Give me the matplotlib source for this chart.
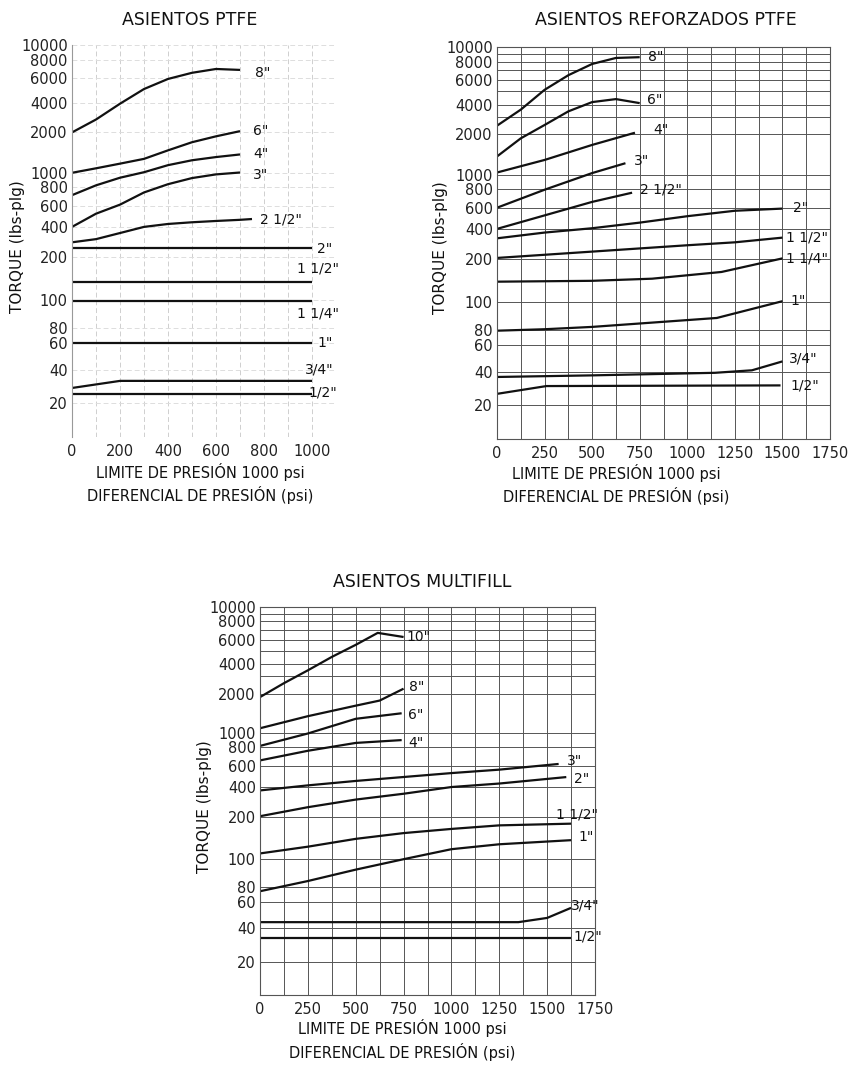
import numpy as np
import matplotlib.pyplot as plt

plt.rcParams['font.family'] = 'DejaVu Sans'

# tick labels of the torque axis
y_ticks = [10000, 8000, 6000, 4000, 2000, 1000, 800, 600, 400, 200, 100, 80, 60, 40, 20]
x_ticks_ptfe = [0, 200, 400, 600, 800, 1000]
x_ticks_wide = [0, 250, 500, 750, 1000, 1250, 1500, 1750]

# the printed torque axis is not a true log axis: height of each value on the paper (0 bottom, 1 top)
axis_vals = [10, 20, 40, 60, 80, 100, 200, 400, 600, 800, 1000, 2000, 4000, 6000, 8000, 10000]
axis_h = [0, .086, .172, .239, .278, .350, .458, .536, .590, .638, .674, .777, .853, .916, .963, 1.0]
log_vals = np.log10(axis_vals)


def fwd(v):
    v = np.clip(np.asarray(v, dtype=float), 1e-6, None)
    return np.interp(np.log10(v), log_vals, axis_h)


def inv(h):
    return 10 ** np.interp(np.asarray(h, dtype=float), axis_h, log_vals)


# ---- ASIENTOS PTFE ----
ptfe_sizes = ['8"', '6"', '4"', '3"', '2 1/2"', '2"', '1 1/2"', '1 1/4"', '1"', '3/4"', '1/2"']
ptfe_x = [
    [0, 100, 200, 300, 400, 500, 600, 700],
    [0, 100, 200, 300, 400, 500, 600, 700],
    [0, 100, 200, 300, 400, 500, 600, 700],
    [0, 100, 200, 300, 400, 500, 600, 700],
    [0, 100, 200, 300, 400, 500, 600, 700, 750],
    [0, 1000],
    [0, 1000],
    [0, 1000],
    [0, 1000],
    [0, 200, 1000],
    [0, 1000],
]
ptfe_y = [
    [2000, 2700, 3900, 5000, 5900, 6500, 6900, 6800],
    [1000, 1080, 1170, 1270, 1470, 1690, 1870, 2060],
    [705, 820, 925, 1010, 1140, 1240, 1310, 1370],
    [400, 515, 610, 735, 835, 920, 975, 1005],
    [282, 303, 348, 400, 423, 437, 448, 458, 465],
    [247, 247],
    [134, 134],
    [99, 99],
    [60, 60],
    [27.4, 31.7, 31.7],
    [24, 24],
]
ptfe_lbl_off = [(15, -3), (13, 0), (13, 0), (13, -2), (8, 0), (5, -1),
                (-15, 13), (-15, -12), (5, 0), (-7, 11), (-4, 2)]

# ---- ASIENTOS REFORZADOS PTFE ----
ref_sizes = ['8"', '6"', '4"', '3"', '2 1/2"', '2"', '1 1/2"', '1 1/4"', '1"', '3/4"', '1/2"']
ref_x = [
    [0, 125, 250, 375, 500, 625, 750],
    [0, 125, 250, 375, 500, 625, 750],
    [0, 250, 500, 725],
    [0, 250, 500, 675],
    [0, 250, 500, 710],
    [0, 250, 500, 750, 1000, 1250, 1500],
    [0, 500, 1000, 1250, 1500],
    [0, 500, 815, 1180, 1500],
    [0, 250, 500, 1155, 1500],
    [0, 500, 1145, 1340, 1500],
    [0, 260, 1490],
]
ref_y = [
    [2450, 3560, 5100, 6460, 7700, 8450, 8550],
    [1370, 1870, 2490, 3420, 4170, 4380, 4100],
    [1040, 1290, 1670, 2080],
    [600, 790, 1030, 1220],
    [400, 518, 656, 755],
    [323, 368, 405, 451, 510, 566, 590],
    [207, 239, 276, 295, 328],
    [139, 141, 146, 163, 205],
    [79, 80.5, 82, 88, 101],
    [35.8, 37, 39, 40.8, 46.8],
    [25.3, 29.7, 30.1],
]
ref_lbl_off = [(8, 0), (7, 3), (18, 3), (8, 2), (8, 3), (11, 1),
               (4, 0), (4, 0), (8, 0), (7, 3), (10, 0)]

# ---- ASIENTOS MULTIFILL ----
mf_sizes = ['10"', '8"', '6"', '4"', '3"', '2"', '1 1/2"', '1"', '3/4"', '1/2"']
mf_x = [
    [0, 125, 250, 375, 500, 615, 750],
    [0, 250, 500, 625, 750],
    [0, 250, 500, 740],
    [0, 250, 500, 740],
    [0, 250, 500, 1000, 1250, 1560],
    [0, 250, 500, 750, 1000, 1250, 1600],
    [0, 250, 500, 750, 1000, 1250, 1625],
    [0, 250, 500, 750, 1000, 1250, 1625],
    [0, 1350, 1500, 1625],
    [0, 1625],
]
mf_y = [
    [1880, 2550, 3450, 4500, 5500, 6670, 6250],
    [1095, 1350, 1620, 1770, 2240],
    [820, 1000, 1290, 1420],
    [655, 760, 860, 900],
    [370, 413, 450, 524, 560, 620],
    [205, 252, 300, 343, 400, 428, 485],
    [110, 123, 140, 154, 165, 175, 180],
    [74, 84, 92, 100, 118, 128, 137],
    [44, 44, 47, 55],
    [33, 33],
]
mf_lbl_off = [(3, 0), (5, 2), (6, -2), (7, -3), (8, 3), (8, -2),
              (-15, 9), (7, 3), (0, 2), (2, 1)]

W, H = 849, 1068
fig = plt.figure(figsize=(W / 100, H / 100), dpi=100)


def make_ax(left, top, right, bottom):
    return fig.add_axes([left / W, 1 - bottom / H, (right - left) / W, (bottom - top) / H])


def draw(ax, sizes, xs, ys, offs, xlim, xticks, minor_step, light):
    ax.set_yscale('function', functions=(fwd, inv))
    ax.set_ylim(10, 10000)
    ax.set_xlim(*xlim)
    ax.set_yticks(y_ticks)
    ax.set_yticklabels([str(v) for v in y_ticks])
    ax.set_xticks(xticks)
    ax.set_xticklabels([str(v) for v in xticks])
    ax.set_xticks(np.arange(0, xlim[1] + 1, minor_step), minor=True)
    ax.tick_params(axis='both', which='both', length=0, labelsize=10.5, colors='#222222')
    ax.tick_params(axis='y', pad=3)
    ax.tick_params(axis='x', pad=5)
    if light:
        ax.grid(True, which='both', axis='x', color='#cfcfcf', lw=0.7, ls=(0, (5, 3)))
        ax.grid(True, which='major', axis='y', color='#dddddd', lw=0.7, ls=(0, (5, 3)))
        for s in ['top', 'right', 'bottom']:
            ax.spines[s].set_visible(False)
        ax.spines['left'].set_color('#999999')
    else:
        ax.set_yticks([3000, 5000, 7000, 9000], minor=True)
        ax.grid(True, which='both', color='#555555', lw=0.7)
        for s in ax.spines.values():
            s.set_color('#555555')
            s.set_linewidth(0.8)
    for lbl, x, y, off in zip(sizes, xs, ys, offs):
        ax.plot(x, y, color='#111111', lw=1.6, solid_capstyle='butt')
        ax.annotate(lbl, xy=(x[-1], y[-1]), xytext=(off[0] * 0.72, off[1] * 0.72),
                    textcoords='offset points', ha='left', va='center',
                    fontsize=10, color='#111111')
    ax.set_axisbelow(True)


ax1 = make_ax(72, 45, 336, 437)
draw(ax1, ptfe_sizes, ptfe_x, ptfe_y, ptfe_lbl_off, (0, 1100), x_ticks_ptfe, 100, True)

ax2 = make_ax(497, 47, 830, 439)
draw(ax2, ref_sizes, ref_x, ref_y, ref_lbl_off, (0, 1750), x_ticks_wide, 125, False)

ax3 = make_ax(260, 607, 595, 995)
draw(ax3, mf_sizes, mf_x, mf_y, mf_lbl_off, (0, 1750), x_ticks_wide, 125, False)

titles = [('ASIENTOS PTFE', 190, 20), ('ASIENTOS REFORZADOS PTFE', 666, 20),
          ('ASIENTOS MULTIFILL', 422, 582)]
for t, x, y in titles:
    fig.text(x / W, 1 - y / H, t, ha='center', va='center', fontsize=12.5, color='#111111')

ylabels = [(18, 247), (440, 248), (205, 807)]
for x, y in ylabels:
    fig.text(x / W, 1 - y / H, 'TORQUE (lbs-plg)', rotation=90, ha='center', va='center',
             fontsize=11, color='#111111')

xlabels = [(200, 472, 495), (616, 473, 496), (402, 1028, 1052)]
for x, y1, y2 in xlabels:
    fig.text(x / W, 1 - y1 / H, 'LIMITE DE PRESIÓN 1000 psi', ha='center', va='center',
             fontsize=10.5, color='#111111')
    fig.text(x / W, 1 - y2 / H, 'DIFERENCIAL DE PRESIÓN (psi)', ha='center', va='center',
             fontsize=10.5, color='#111111')

fig.savefig('out.png', dpi=100, facecolor='white')
